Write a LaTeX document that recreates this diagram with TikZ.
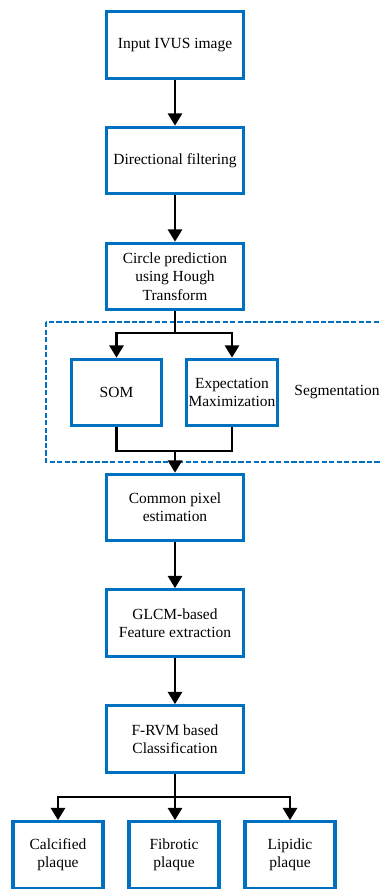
\documentclass[tikz,border=0pt]{standalone}
\usepackage{fontspec}
\setmainfont{Liberation Serif}
\usepackage{xcolor}
\usetikzlibrary{arrows.meta}
\definecolor{boxblue}{RGB}{0,112,192}

\tikzset{
  stage/.style={draw=boxblue, line width=1.8pt, fill=white, minimum width=2.74cm, minimum height=1.33cm, align=center, inner sep=1pt, font=\fontsize{8.8}{10.4}\selectfont},
  method/.style={stage, minimum width=1.8cm},
  flow/.style={line width=1.5pt, -{Triangle[width=8pt,length=7pt]}},
  link/.style={line width=1.5pt}
}

\begin{document}
\begin{tikzpicture}[x=0.02cm,y=-0.02cm]
\clip (0,0) rectangle (380,889);
\fill[white] (0,0) rectangle (380,889);

% segmentation frame
\draw[boxblue, line width=1.4pt, dash pattern=on 3pt off 1.3pt] (46,322) rectangle (420,462);
\node (seg) at (337,392) {\fontsize{8.8}{10.4}\selectfont Segmentation};

\node[stage] (input) at (175,45) {Input IVUS image};
\node[stage] (filter) at (175,160.5) {Directional filtering};
\node[stage] (hough) at (175,276.5) {Circle prediction\\using Hough\\Transform};

\node[method] (som) at (116.5,392.5) {SOM};
\node[method] (em) at (232,392.5) {Expectation\\Maximization};

\node[stage] (common) at (175,507.5) {Common pixel\\estimation};
\node[stage] (glcm) at (175,623) {GLCM-based\\Feature extraction};
\node[stage] (frvm) at (175,739) {F-RVM based\\Classification};

\node[method] (calc) at (58,855) {Calcified\\plaque};
\node[method] (fibro) at (174,855) {Fibrotic\\plaque};
\node[method] (lipid) at (290,855) {Lipidic\\plaque};

\coordinate (split) at (175,333);
\coordinate (join) at (175,451);
\coordinate (fork) at (175,797);

\draw[flow] (input) -- (filter);
\draw[flow] (filter) -- (hough);

\draw[link] (hough) -- (split);
\draw[flow] (split) -| (som.north);
\draw[flow] (split) -| (em.north);

\draw[link] (som.south) |- (join) -| (em.south);
\draw[flow] (join) -- (common);

\draw[flow] (common) -- (glcm);
\draw[flow] (glcm) -- (frvm);

\draw[link] (frvm) -- (fork);
\draw[flow] (fork) -| (calc.north);
\draw[flow] (fork) -- (fibro.north -| fork);
\draw[flow] (fork) -| (lipid.north);
\end{tikzpicture}
\end{document}
